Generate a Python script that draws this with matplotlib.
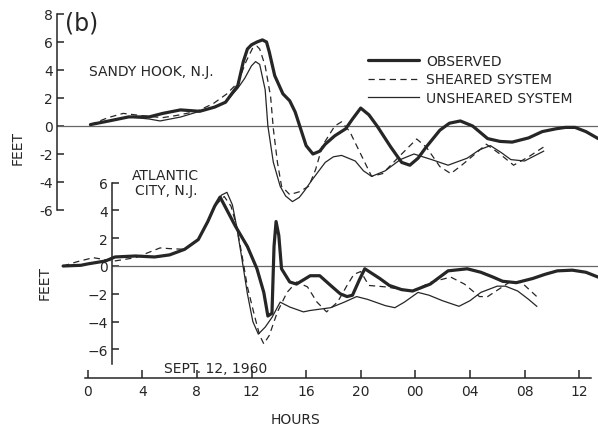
import matplotlib
matplotlib.use("Agg")
import matplotlib.pyplot as plt

# Sandy Hook, N.J. (upper panel), hours from 00 on Sept. 12, 1960
sh_obs_h = [0.2, 1.5, 3.0, 4.5, 5.5, 6.8, 8.2, 9.3, 10.1, 11.0, 11.4, 11.7, 12.0, 12.4, 12.8,
            13.1, 13.3, 13.7, 14.3, 14.8, 15.2, 15.6, 16.0, 16.5, 17.0, 17.4, 18.1, 18.9, 19.4,
            20.0, 20.6, 21.2, 22.2, 23.0, 23.6, 24.2, 24.8, 25.8, 26.5, 27.3, 28.2, 29.3,
            30.2, 31.1, 32.3, 33.3, 34.3, 35.0, 35.7, 36.5, 37.4]
sh_obs_ft = [0.1, 0.35, 0.65, 0.65, 0.9, 1.15, 1.05, 1.35, 1.7, 2.9, 4.6, 5.5, 5.8, 6.0, 6.15,
             6.0, 5.3, 3.6, 2.3, 1.8, 1.0, -0.2, -1.4, -2.0, -1.8, -1.3, -0.7, -0.2, 0.5,
             1.28, 0.8, 0.0, -1.5, -2.6, -2.8, -2.3, -1.5, -0.3, 0.2, 0.36, 0.0, -0.9,
             -1.1, -1.15, -0.85, -0.4, -0.2, -0.1, -0.1, -0.4, -0.9]

sh_shr_h = [0.2, 1.5, 2.6, 4.3, 5.5, 6.5, 8.0, 9.2, 10.2, 11.0, 11.6, 12.1, 12.4, 12.6, 13.0,
            13.4, 13.6, 13.9, 14.2, 14.8, 15.5, 16.2, 16.7, 17.2, 18.1, 18.6, 19.2, 20.0,
            20.8, 21.6, 22.9, 24.1, 24.8, 25.8, 26.6, 27.4, 28.5, 29.2, 30.2, 31.2, 32.3, 33.4]
sh_shr_ft = [0.1, 0.6, 0.9, 0.7, 0.6, 0.75, 1.05, 1.6, 2.3, 3.1, 4.6, 5.6, 5.7, 5.5, 4.3,
             2.1, -0.2, -2.6, -4.3, -4.9, -4.7, -4.3, -3.1, -1.4, 0.0, 0.3, -0.4, -2.0,
             -3.6, -3.4, -2.1, -0.93, -1.5, -2.9, -3.4, -2.8, -1.9, -1.3, -2.0, -2.8, -2.2, -1.5]

sh_uns_h = [0.2, 1.5, 3.0, 4.5, 5.3, 6.8, 8.2, 9.3, 10.1, 11.0, 11.5, 12.0, 12.3, 12.6, 13.0,
            13.2, 13.6, 14.1, 14.5, 15.0, 15.5, 15.9, 16.4, 17.4, 18.0, 18.6, 19.6, 20.2,
            20.8, 21.8, 22.9, 23.9, 25.2, 26.4, 27.8, 28.7, 29.5, 30.3, 31.0, 32.0, 33.4]
sh_uns_ft = [0.1, 0.35, 0.65, 0.5, 0.36, 0.64, 1.05, 1.35, 1.7, 2.7, 3.4, 4.3, 4.6, 4.4, 2.6,
             0.0, -2.6, -4.3, -5.0, -5.4, -5.1, -4.6, -3.9, -2.6, -2.2, -2.1, -2.5, -3.2,
             -3.6, -3.2, -2.4, -2.0, -2.4, -2.8, -2.3, -1.7, -1.4, -1.9, -2.4, -2.5, -1.8]

# Atlantic City, N.J. (lower panel)
ac_obs_h = [-1.8, -0.5, 0.0, 1.3, 2.0, 3.5, 4.9, 6.0, 7.1, 8.1, 8.8, 9.3, 9.7, 10.8, 11.7,
            12.4, 12.9, 13.2, 13.5, 13.65, 13.8, 14.0, 14.2, 14.8, 15.3, 16.3, 17.0, 17.8,
            18.5, 19.0, 19.4, 19.9, 20.3, 21.4, 22.1, 23.0, 23.8, 25.1, 26.4, 27.8, 28.8,
            29.7, 30.4, 31.4, 32.6, 33.5, 34.4, 35.5, 36.5, 37.4]
ac_obs_ft = [0.0, 0.05, 0.15, 0.36, 0.65, 0.72, 0.65, 0.8, 1.2, 1.9, 3.2, 4.3, 4.96, 2.9, 1.4,
             -0.2, -1.9, -3.6, -3.4, 1.4, 3.2, 2.2, -0.2, -1.15, -1.3, -0.7, -0.7, -1.4,
             -2.0, -2.2, -2.1, -1.0, -0.2, -0.9, -1.4, -1.7, -1.8, -1.3, -0.35, -0.2, -0.45,
             -0.8, -1.1, -1.2, -0.9, -0.6, -0.35, -0.3, -0.45, -0.8]

ac_shr_h = [-1.8, -0.8, 0.4, 1.9, 3.5, 5.3, 6.0, 7.1, 8.1, 8.8, 9.3, 10.0, 10.5, 10.9, 11.3,
            11.7, 12.2, 12.6, 12.9, 13.3, 13.9, 14.6, 15.3, 16.1, 16.8, 17.5, 18.3, 19.0,
            19.5, 20.0, 20.6, 21.8, 23.8, 25.2, 26.6, 27.6, 28.7, 29.3, 31.0, 31.8, 32.9]
ac_shr_ft = [0.0, 0.3, 0.6, 0.35, 0.6, 1.3, 1.25, 1.2, 1.9, 3.2, 4.3, 5.0, 4.3, 2.9, 0.8,
             -1.5, -3.5, -5.0, -5.6, -5.0, -3.3, -1.9, -1.15, -1.5, -2.6, -3.3, -2.6, -1.4,
             -0.6, -0.4, -1.4, -1.5, -1.8, -1.15, -0.8, -1.3, -2.2, -2.2, -1.1, -1.2, -2.2]

ac_uns_h = [-1.8, -0.5, 0.0, 1.3, 2.0, 3.5, 4.9, 6.0, 7.1, 8.1, 8.8, 9.3, 9.8, 10.2, 10.6,
            10.9, 11.3, 11.7, 12.1, 12.5, 13.0, 13.5, 14.1, 14.8, 15.8, 16.3, 17.8, 18.8,
            19.7, 20.5, 21.8, 22.5, 23.2, 24.2, 25.0, 26.0, 27.2, 28.0, 28.8, 30.0, 30.6,
            31.5, 32.3, 32.9]
ac_uns_ft = [0.0, 0.05, 0.15, 0.36, 0.65, 0.72, 0.65, 0.8, 1.2, 1.9, 3.2, 4.3, 5.1, 5.3, 4.4,
             2.9, 0.5, -2.0, -4.0, -4.9, -4.4, -3.7, -2.6, -2.95, -3.3, -3.2, -3.0, -2.6,
             -2.2, -2.4, -2.85, -3.0, -2.6, -1.9, -2.1, -2.5, -2.9, -2.5, -1.9, -1.45, -1.45,
             -1.8, -2.4, -2.9]

hour_ticks = [0, 4, 8, 12, 16, 20, 24, 28, 32, 36]
hour_labels = ["0", "4", "8", "12", "16", "20", "00", "04", "08", "12"]
sh_ticks = [8, 6, 4, 2, 0, -2, -4, -6]
sh_labels = ["8", "6", "4", "2", "0", "-2", "-4", "-6"]
ac_ticks = [6, 4, 2, 0, -2, -4, -6]
ac_labels = ["6", "4", "2", "0", "\u22122", "\u22124", "\u22126"]

W, H = 598, 427
INK = "#262626"
plt.rcParams["font.family"] = "DejaVu Sans"
plt.rcParams["text.color"] = INK
plt.rcParams["lines.solid_joinstyle"] = "round"
plt.rcParams["lines.dash_joinstyle"] = "round"


def box(left, top, right, bottom):
    return [left / W, 1 - bottom / H, (right - left) / W, (bottom - top) / H]


def bare(ax):
    ax.set_facecolor("none")
    for s in ax.spines.values():
        s.set_visible(False)
    ax.set_xticks([])
    ax.set_yticks([])


fig = plt.figure(figsize=(W / 100, H / 100), dpi=100)
fig.patch.set_facecolor("white")
xlim = (-87.7 / 13.65, (598 - 87.7) / 13.65)

# upper panel
top = fig.add_axes(box(0, 0, 598, 235))
bare(top)
top.set_xlim(*xlim)
top.set_ylim((127 - 235) / 14, 127 / 14)
top.spines["left"].set_visible(True)
top.spines["left"].set_position(("data", -2.25))
top.spines["left"].set_bounds(-6, 8)
top.spines["left"].set_linewidth(1.1)
top.spines["left"].set_color(INK)
top.set_yticks(sh_ticks)
top.set_yticklabels(sh_labels)
top.tick_params(axis="y", direction="in", length=5, width=1.1, color=INK,
                labelsize=10, labelcolor=INK, pad=3)
top.hlines(0, -2.25, xlim[1], color="#666666", lw=0.9)
top.plot(sh_obs_h, sh_obs_ft, color=INK, lw=2.3, label="OBSERVED", solid_capstyle="round")
top.plot(sh_shr_h, sh_shr_ft, color=INK, lw=0.9, ls=(0, (5, 3.5)), label="SHEARED SYSTEM")
top.plot(sh_uns_h, sh_uns_ft, color=INK, lw=0.9, label="UNSHEARED SYSTEM")
top.legend(frameon=False, loc="upper left", bbox_to_anchor=(368 / W, 1 - 55 / H),
           bbox_transform=fig.transFigure, borderpad=0, borderaxespad=0,
           handlelength=3.7, handletextpad=0.5, labelspacing=0.32, fontsize=10)

# lower panel
bot = fig.add_axes(box(0, 165, 598, 372))
bare(bot)
bot.set_xlim(*xlim)
bot.set_ylim((267 - 372) / 13.9, (267 - 165) / 13.9)
bot.spines["left"].set_visible(True)
bot.spines["left"].set_position(("data", (112 - 87.7) / 13.65))
bot.spines["left"].set_bounds(-7.05, 6)
bot.spines["left"].set_linewidth(1.1)
bot.spines["left"].set_color(INK)
bot.set_yticks(ac_ticks)
bot.set_yticklabels(ac_labels)
bot.tick_params(axis="y", direction="in", length=5, width=1.1, color=INK,
                labelsize=10, labelcolor=INK, pad=3)
bot.hlines(0, (112 - 87.7) / 13.65, xlim[1], color="#666666", lw=0.9)
bot.plot(ac_obs_h, ac_obs_ft, color=INK, lw=2.3, solid_capstyle="round")
bot.plot(ac_shr_h, ac_shr_ft, color=INK, lw=0.9, ls=(0, (5, 3.5)))
bot.plot(ac_uns_h, ac_uns_ft, color=INK, lw=0.9)

# hours axis
hrs = fig.add_axes(box(0, 340, 598, 379))
bare(hrs)
hrs.set_xlim(*xlim)
hrs.spines["bottom"].set_visible(True)
hrs.spines["bottom"].set_bounds(-0.2, 36.9)
hrs.spines["bottom"].set_linewidth(1.1)
hrs.spines["bottom"].set_color(INK)
hrs.set_xticks(hour_ticks)
hrs.set_xticklabels(hour_labels)
hrs.tick_params(axis="x", direction="in", length=6, width=1.1, color=INK,
                labelsize=10, labelcolor=INK, pad=4)

fig.text(82 / W, 1 - 24 / H, "(b)", fontsize=17, ha="center", va="center")
fig.text(151 / W, 1 - 72 / H, "SANDY HOOK, N.J.", fontsize=10, ha="center", va="center")
fig.text(165 / W, 1 - 176 / H, "ATLANTIC", fontsize=10, ha="center", va="center")
fig.text(166 / W, 1 - 191 / H, "CITY, N.J.", fontsize=10, ha="center", va="center")
fig.text(18 / W, 1 - 148 / H, "FEET", fontsize=10, rotation=90, ha="center", va="center")
fig.text(45 / W, 1 - 283 / H, "FEET", fontsize=10, rotation=90, ha="center", va="center")
fig.text(216 / W, 1 - 369 / H, "SEPT. 12, 1960", fontsize=10, ha="center", va="center")
fig.text(296 / W, 1 - 420 / H, "HOURS", fontsize=10, ha="center", va="center")

fig.savefig("out.png", dpi=100)
